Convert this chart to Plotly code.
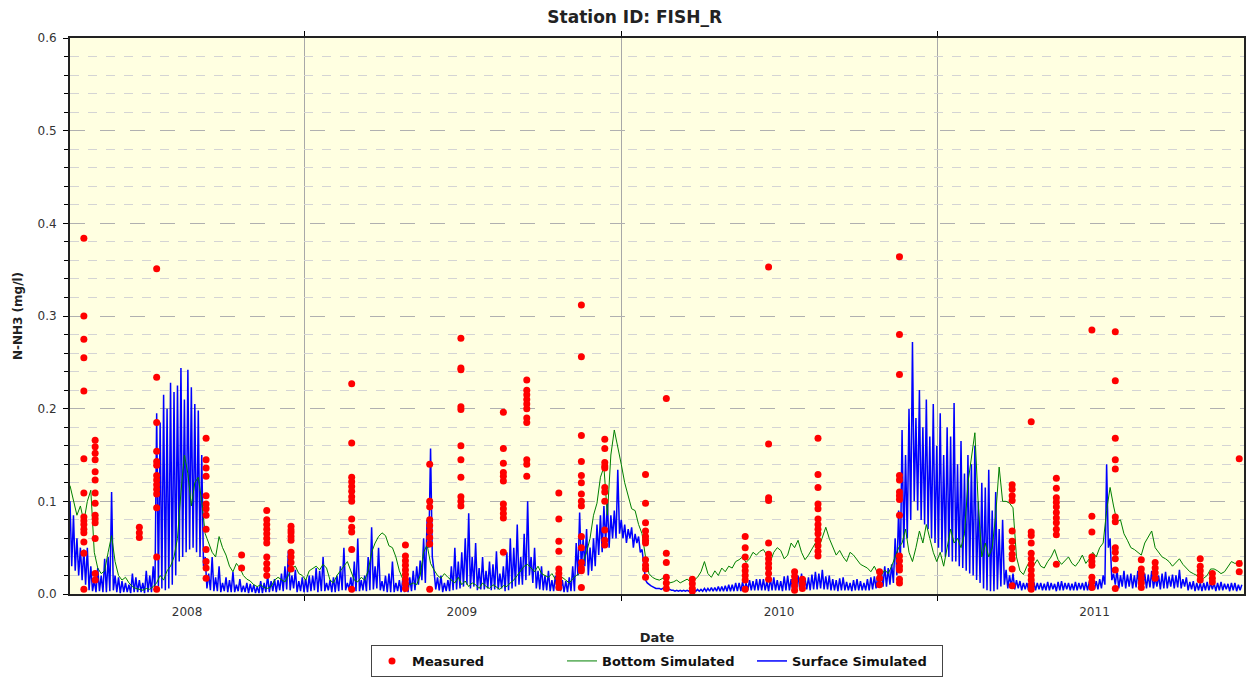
import pandas as pd
import plotly.graph_objects as go

# --- Simulated series: surface every 2 days, bottom every 4 days, both from sim_start
sim_start = '2008-04-05'
surface_step = '2D'
bottom_step = '4D'

surface_sim = [
    0.100, 0.030, 0.085, 0.025, 0.060, 0.020, 0.050, 0.015, 0.048, 0.010, 0.050, 0.004, 0.030, 0.003, 0.015, 0.002, 0.028, 0.003, 0.020, 0.002,
    0.038, 0.002, 0.040, 0.003, 0.110, 0.004, 0.020, 0.002, 0.018, 0.001, 0.014, 0.002, 0.012, 0.002, 0.010, 0.001, 0.022, 0.002, 0.018, 0.002,
    0.015, 0.002, 0.012, 0.001, 0.025, 0.002, 0.020, 0.002, 0.030, 0.005, 0.195, 0.008, 0.185, 0.006, 0.215, 0.004, 0.200, 0.006, 0.228, 0.010,
    0.218, 0.020, 0.225, 0.035, 0.244, 0.040, 0.210, 0.045, 0.242, 0.048, 0.223, 0.050, 0.205, 0.045, 0.198, 0.040, 0.150, 0.030, 0.040, 0.006,
    0.022, 0.004, 0.040, 0.003, 0.018, 0.003, 0.030, 0.002, 0.012, 0.003, 0.018, 0.002, 0.015, 0.002, 0.024, 0.002, 0.010, 0.003, 0.016, 0.002,
    0.009, 0.002, 0.012, 0.001, 0.011, 0.002, 0.010, 0.001, 0.008, 0.001, 0.014, 0.001, 0.012, 0.002, 0.020, 0.002, 0.014, 0.003, 0.016, 0.002,
    0.015, 0.004, 0.022, 0.003, 0.030, 0.005, 0.047, 0.004, 0.020, 0.006, 0.026, 0.002, 0.014, 0.003, 0.018, 0.002, 0.016, 0.002, 0.020, 0.003,
    0.020, 0.004, 0.028, 0.002, 0.025, 0.003, 0.040, 0.003, 0.012, 0.004, 0.015, 0.002, 0.018, 0.002, 0.020, 0.003, 0.030, 0.004, 0.050, 0.004,
    0.012, 0.005, 0.018, 0.002, 0.035, 0.003, 0.060, 0.003, 0.015, 0.004, 0.020, 0.003, 0.040, 0.004, 0.072, 0.005, 0.030, 0.006, 0.050, 0.004,
    0.014, 0.003, 0.020, 0.002, 0.022, 0.002, 0.035, 0.002, 0.012, 0.003, 0.015, 0.002, 0.016, 0.002, 0.020, 0.002, 0.018, 0.003, 0.025, 0.004,
    0.030, 0.010, 0.036, 0.015, 0.060, 0.012, 0.080, 0.050, 0.157, 0.040, 0.025, 0.005, 0.018, 0.004, 0.020, 0.002, 0.012, 0.003, 0.015, 0.003,
    0.030, 0.004, 0.050, 0.005, 0.035, 0.006, 0.045, 0.008, 0.060, 0.010, 0.087, 0.006, 0.040, 0.008, 0.055, 0.004, 0.028, 0.005, 0.040, 0.005,
    0.025, 0.006, 0.035, 0.004, 0.032, 0.005, 0.046, 0.005, 0.022, 0.006, 0.030, 0.003, 0.045, 0.004, 0.060, 0.006, 0.050, 0.008, 0.075, 0.010,
    0.040, 0.010, 0.065, 0.015, 0.100, 0.020, 0.040, 0.012, 0.050, 0.006, 0.025, 0.005, 0.030, 0.004, 0.020, 0.004, 0.025, 0.003, 0.015, 0.003,
    0.020, 0.004, 0.012, 0.003, 0.015, 0.002, 0.014, 0.002, 0.018, 0.003, 0.030, 0.003, 0.055, 0.020, 0.088, 0.025, 0.060, 0.030, 0.070, 0.020,
    0.050, 0.025, 0.060, 0.030, 0.075, 0.042, 0.085, 0.045, 0.095, 0.055, 0.100, 0.050, 0.085, 0.060, 0.090, 0.060, 0.134, 0.065, 0.080, 0.060,
    0.075, 0.055, 0.070, 0.060, 0.072, 0.050, 0.065, 0.055, 0.062, 0.045, 0.048, 0.030, 0.015, 0.012, 0.010, 0.009, 0.008, 0.007, 0.006, 0.006,
    0.006, 0.005, 0.006, 0.005, 0.005, 0.004, 0.005, 0.004, 0.004, 0.003, 0.004, 0.003, 0.004, 0.003, 0.004, 0.003, 0.004, 0.003, 0.004, 0.003,
    0.004, 0.003, 0.005, 0.003, 0.005, 0.003, 0.006, 0.003, 0.006, 0.003, 0.007, 0.003, 0.007, 0.003, 0.008, 0.003, 0.008, 0.003, 0.009, 0.003,
    0.010, 0.003, 0.010, 0.003, 0.012, 0.003, 0.012, 0.003, 0.013, 0.004, 0.012, 0.004, 0.015, 0.004, 0.014, 0.004, 0.016, 0.004, 0.016, 0.004,
    0.016, 0.004, 0.014, 0.003, 0.017, 0.004, 0.018, 0.004, 0.015, 0.004, 0.014, 0.003, 0.019, 0.004, 0.020, 0.004, 0.016, 0.004, 0.015, 0.004,
    0.020, 0.005, 0.022, 0.005, 0.017, 0.005, 0.018, 0.004, 0.021, 0.005, 0.024, 0.005, 0.022, 0.006, 0.026, 0.005, 0.019, 0.005, 0.020, 0.004,
    0.016, 0.004, 0.015, 0.003, 0.017, 0.004, 0.018, 0.004, 0.013, 0.004, 0.012, 0.003, 0.015, 0.004, 0.016, 0.004, 0.014, 0.004, 0.012, 0.004,
    0.016, 0.004, 0.018, 0.005, 0.019, 0.006, 0.020, 0.007, 0.025, 0.008, 0.030, 0.008, 0.028, 0.010, 0.032, 0.012, 0.060, 0.020, 0.090, 0.030,
    0.177, 0.050, 0.150, 0.060, 0.200, 0.080, 0.272, 0.100, 0.190, 0.090, 0.220, 0.080, 0.180, 0.075, 0.210, 0.070, 0.170, 0.060, 0.205, 0.055,
    0.160, 0.050, 0.195, 0.045, 0.150, 0.040, 0.180, 0.040, 0.170, 0.035, 0.206, 0.035, 0.140, 0.030, 0.165, 0.028, 0.130, 0.025, 0.150, 0.022,
    0.140, 0.020, 0.160, 0.015, 0.100, 0.012, 0.120, 0.006, 0.115, 0.004, 0.134, 0.003, 0.090, 0.003, 0.110, 0.005, 0.070, 0.008, 0.080, 0.010,
    0.026, 0.006, 0.020, 0.008, 0.022, 0.005, 0.015, 0.006, 0.014, 0.004, 0.012, 0.005, 0.012, 0.004, 0.011, 0.004, 0.013, 0.004, 0.012, 0.005,
    0.012, 0.004, 0.011, 0.004, 0.013, 0.004, 0.012, 0.005, 0.011, 0.003, 0.013, 0.004, 0.014, 0.004, 0.012, 0.005, 0.012, 0.004, 0.011, 0.004,
    0.013, 0.004, 0.012, 0.005, 0.012, 0.004, 0.013, 0.004, 0.013, 0.004, 0.012, 0.005, 0.014, 0.005, 0.016, 0.006, 0.020, 0.010, 0.140, 0.050,
    0.060, 0.015, 0.022, 0.010, 0.026, 0.006, 0.020, 0.008, 0.025, 0.006, 0.021, 0.008, 0.022, 0.006, 0.020, 0.007, 0.025, 0.006, 0.022, 0.008,
    0.022, 0.006, 0.021, 0.007, 0.025, 0.006, 0.018, 0.008, 0.020, 0.005, 0.022, 0.006, 0.024, 0.006, 0.019, 0.008, 0.021, 0.006, 0.020, 0.007,
    0.026, 0.006, 0.016, 0.008, 0.018, 0.004, 0.013, 0.005, 0.014, 0.003, 0.012, 0.004, 0.012, 0.003, 0.012, 0.004, 0.013, 0.004, 0.012, 0.005,
    0.012, 0.003, 0.012, 0.004, 0.013, 0.004, 0.011, 0.005, 0.011, 0.003, 0.012, 0.004, 0.012, 0.003, 0.010, 0.004, 0.010,
]

bottom_sim = [
    0.117, 0.102, 0.085, 0.095, 0.078, 0.100, 0.112, 0.045, 0.028, 0.022,
    0.025, 0.045, 0.063, 0.035, 0.020, 0.015, 0.018, 0.012, 0.008, 0.006,
    0.005, 0.004, 0.006, 0.005, 0.008, 0.012, 0.020, 0.015, 0.025, 0.030,
    0.040, 0.060, 0.110, 0.150, 0.130, 0.095, 0.120, 0.126, 0.100, 0.065,
    0.055, 0.045, 0.040, 0.062, 0.050, 0.042, 0.030, 0.024, 0.033, 0.028,
    0.020, 0.016, 0.014, 0.010, 0.008, 0.010, 0.007, 0.006, 0.008, 0.015,
    0.018, 0.015, 0.013, 0.020, 0.028, 0.030, 0.022, 0.020, 0.015, 0.025,
    0.028, 0.030, 0.026, 0.032, 0.028, 0.015, 0.012, 0.020, 0.025, 0.030,
    0.035, 0.025, 0.015, 0.013, 0.018, 0.015, 0.025, 0.045, 0.055, 0.062,
    0.066, 0.063, 0.052, 0.050, 0.040, 0.025, 0.016, 0.012, 0.010, 0.012,
    0.010, 0.020, 0.045, 0.053, 0.033, 0.026, 0.020, 0.017, 0.022, 0.018,
    0.015, 0.012, 0.018, 0.010, 0.014, 0.008, 0.012, 0.010, 0.006, 0.012,
    0.008, 0.006, 0.010, 0.007, 0.005, 0.009, 0.008, 0.012, 0.015, 0.020,
    0.025, 0.030, 0.032, 0.028, 0.024, 0.030, 0.022, 0.020, 0.018, 0.022,
    0.016, 0.014, 0.018, 0.015, 0.012, 0.016, 0.020, 0.022, 0.035, 0.045,
    0.060, 0.085, 0.098, 0.126, 0.137, 0.085, 0.150, 0.177, 0.160, 0.140,
    0.120, 0.105, 0.092, 0.090, 0.075, 0.065, 0.040, 0.022, 0.018, 0.016,
    0.015, 0.017, 0.014, 0.012, 0.013, 0.015, 0.012, 0.014, 0.016, 0.013,
    0.015, 0.018, 0.024, 0.035, 0.022, 0.018, 0.025, 0.020, 0.028, 0.024,
    0.030, 0.028, 0.035, 0.037, 0.040, 0.034, 0.038, 0.045, 0.042, 0.046,
    0.048, 0.042, 0.035, 0.045, 0.050, 0.047, 0.038, 0.042, 0.055, 0.050,
    0.058, 0.045, 0.037, 0.042, 0.048, 0.055, 0.050, 0.060, 0.072, 0.060,
    0.050, 0.042, 0.047, 0.040, 0.035, 0.045, 0.042, 0.037, 0.032, 0.030,
    0.028, 0.024, 0.030, 0.022, 0.020, 0.026, 0.022, 0.030, 0.040, 0.050,
    0.055, 0.070, 0.045, 0.035, 0.050, 0.068, 0.055, 0.075, 0.060, 0.045,
    0.035, 0.045, 0.030, 0.050, 0.070, 0.055, 0.060, 0.050, 0.065, 0.120,
    0.150, 0.174, 0.095, 0.040, 0.055, 0.040, 0.050, 0.085, 0.137, 0.100,
    0.100, 0.098, 0.093, 0.040, 0.025, 0.021, 0.030, 0.036, 0.031, 0.037,
    0.030, 0.028, 0.035, 0.040, 0.048, 0.037, 0.032, 0.036, 0.040, 0.033,
    0.030, 0.035, 0.042, 0.033, 0.038, 0.045, 0.040, 0.050, 0.055, 0.090,
    0.115, 0.095, 0.078, 0.080, 0.065, 0.058, 0.050, 0.048, 0.045, 0.042,
    0.055, 0.062, 0.068, 0.050, 0.045, 0.040, 0.038, 0.035, 0.030, 0.034,
    0.038, 0.032, 0.028, 0.024, 0.022, 0.020, 0.018, 0.017, 0.020, 0.027,
    0.027, 0.025, 0.022, 0.024, 0.030, 0.035, 0.033, 0.034, 0.036,
]

# --- Measured samples: one list of values per sampling date
meas_dates = [
    '2008-04-21', '2008-05-04', '2008-06-24', '2008-07-14', '2008-09-09',
    '2008-10-20', '2008-11-18', '2008-12-16', '2009-02-24', '2009-04-27',
    '2009-05-25', '2009-06-30', '2009-08-18', '2009-09-14', '2009-10-21',
    '2009-11-16', '2009-12-13', '2010-01-29', '2010-02-22', '2010-03-24',
    '2010-05-24', '2010-06-20', '2010-07-20', '2010-07-29', '2010-08-16',
    '2010-10-26', '2010-11-18', '2011-03-28', '2011-04-19', '2011-05-18',
    '2011-06-28', '2011-07-25', '2011-08-24', '2011-09-09', '2011-10-31',
    '2011-11-14', '2011-12-15',
]
meas_values = [
    [0.384, 0.300, 0.275, 0.255, 0.219, 0.146, 0.109, 0.083, 0.079, 0.075, 0.070, 0.066, 0.056, 0.044, 0.005],
    [0.166, 0.159, 0.152, 0.145, 0.132, 0.123, 0.109, 0.098, 0.085, 0.081, 0.077, 0.060, 0.022, 0.015],
    [0.072, 0.066, 0.061],
    [0.351, 0.234, 0.185, 0.154, 0.143, 0.139, 0.128, 0.123, 0.118, 0.113, 0.108, 0.093, 0.040, 0.005],
    [0.168, 0.145, 0.136, 0.127, 0.106, 0.097, 0.092, 0.085, 0.070, 0.048, 0.035, 0.028, 0.017],
    [0.042, 0.028],
    [0.090, 0.080, 0.075, 0.070, 0.065, 0.060, 0.055, 0.040, 0.033, 0.027, 0.020],
    [0.073, 0.069, 0.066, 0.062, 0.058, 0.045, 0.040, 0.034, 0.027],
    [0.227, 0.163, 0.126, 0.121, 0.116, 0.111, 0.105, 0.100, 0.081, 0.072, 0.067, 0.048, 0.005],
    [0.053, 0.041, 0.036, 0.031, 0.026, 0.021, 0.016, 0.011, 0.006],
    [0.140, 0.100, 0.094, 0.080, 0.074, 0.068, 0.061, 0.054, 0.005],
    [0.276, 0.244, 0.242, 0.202, 0.199, 0.160, 0.145, 0.126, 0.105, 0.100, 0.095],
    [0.196, 0.157, 0.141, 0.131, 0.127, 0.122, 0.097, 0.092, 0.087, 0.082, 0.045],
    [0.231, 0.220, 0.215, 0.210, 0.205, 0.200, 0.190, 0.185, 0.145, 0.140, 0.127],
    [0.109, 0.081, 0.057, 0.046, 0.027, 0.022, 0.017, 0.012, 0.007],
    [0.312, 0.256, 0.171, 0.143, 0.128, 0.120, 0.108, 0.100, 0.095, 0.062, 0.050, 0.034, 0.028, 0.025, 0.007],
    [0.167, 0.157, 0.142, 0.138, 0.136, 0.115, 0.110, 0.100, 0.069, 0.058, 0.053],
    [0.129, 0.098, 0.077, 0.068, 0.062, 0.058, 0.055, 0.037, 0.031, 0.027, 0.018],
    [0.211, 0.044, 0.034, 0.018, 0.012, 0.006],
    [0.016, 0.011, 0.006, 0.003],
    [0.062, 0.050, 0.040, 0.030, 0.025, 0.020, 0.015, 0.005],
    [0.353, 0.162, 0.104, 0.101, 0.055, 0.043, 0.038, 0.033, 0.028, 0.022, 0.016],
    [0.024, 0.019, 0.014, 0.009, 0.004],
    [0.016, 0.011, 0.006],
    [0.168, 0.129, 0.115, 0.097, 0.092, 0.081, 0.075, 0.070, 0.065, 0.058, 0.052, 0.046, 0.041],
    [0.024, 0.017, 0.010],
    [0.364, 0.280, 0.237, 0.128, 0.123, 0.110, 0.106, 0.102, 0.085, 0.041, 0.036, 0.030, 0.026, 0.016, 0.012],
    [0.118, 0.113, 0.106, 0.101, 0.068, 0.057, 0.050, 0.043, 0.038, 0.027, 0.009],
    [0.186, 0.067, 0.063, 0.055, 0.044, 0.038, 0.032, 0.026, 0.020, 0.015, 0.010, 0.005],
    [0.125, 0.114, 0.104, 0.099, 0.094, 0.088, 0.082, 0.077, 0.070, 0.064, 0.032],
    [0.285, 0.084, 0.067, 0.040, 0.035, 0.031, 0.018, 0.013, 0.007],
    [0.283, 0.230, 0.168, 0.145, 0.135, 0.083, 0.078, 0.050, 0.045, 0.038, 0.026, 0.006],
    [0.037, 0.027, 0.022, 0.017, 0.012, 0.007],
    [0.034, 0.028, 0.023, 0.017],
    [0.038, 0.030, 0.025, 0.020, 0.015],
    [0.022, 0.017, 0.013],
    [0.146, 0.033, 0.024],
]

# --- Axis
x_range = ['2008-04-05', '2011-12-20 12:00']
year_starts = ['2009-01-01', '2010-01-01', '2011-01-01']
year_label_dates = ['2008-08-18', '2009-07-01', '2010-07-02', '2011-07-01']
year_labels = ['2008', '2009', '2010', '2011']

surface_dates = pd.date_range(sim_start, periods=len(surface_sim), freq=surface_step)
bottom_dates = pd.date_range(sim_start, periods=len(bottom_sim), freq=bottom_step)
meas_x = [d for d, vals in zip(meas_dates, meas_values) for _ in vals]
meas_y = [v for vals in meas_values for v in vals]

fig = go.Figure()
fig.add_trace(go.Scatter(
    x=surface_dates, y=surface_sim, mode='lines',
    line=dict(color='#0000FF', width=1.5),
    name='Surface Simulated', legendrank=3
))
fig.add_trace(go.Scatter(
    x=bottom_dates, y=bottom_sim, mode='lines',
    line=dict(color='#008000', width=1),
    name='Bottom Simulated', legendrank=2
))
fig.add_trace(go.Scatter(
    x=meas_x, y=meas_y, mode='markers',
    marker=dict(color='#FF0000', size=7),
    name='Measured', legendrank=1
))

fig.update_layout(
    width=1246, height=680,
    paper_bgcolor='white', plot_bgcolor='#FFFFE1',
    font=dict(family='DejaVu Sans', size=12, color='#333333'),
    margin=dict(l=70, r=2, t=38, b=86),
    title=dict(text='<b>Station ID: FISH_R</b>', x=0.481, xref='paper', xanchor='center',
               y=0.975, yref='container', yanchor='middle',
               font=dict(size=17, color='#222222')),
    legend=dict(orientation='h', x=0.5, xanchor='center', y=-0.0917, yanchor='top',
                bordercolor='#444444', borderwidth=1, bgcolor='white',
                font=dict(size=13, color='#111111', weight='bold'),
                entrywidth=145, traceorder='normal'),
)

fig.update_xaxes(
    type='date', range=x_range, automargin=False,
    tickmode='array', tickvals=year_label_dates, ticktext=year_labels,
    ticks='', showgrid=False, zeroline=False, ticklabelstandoff=6,
    minor=dict(tickmode='array', tickvals=year_starts, ticks='outside', ticklen=5,
               tickcolor='black', showgrid=True, gridcolor='#a8a8a8', gridwidth=1),
    showline=True, linecolor='#222222', linewidth=2, mirror='ticks',
    title=dict(text='<b>Date</b>', font=dict(size=13, color='#222222'), standoff=14),
)
fig.update_yaxes(
    range=[0, 0.6], tick0=0, dtick=0.1, tickformat='.1f', automargin=False,
    ticks='outside', ticklen=5, tickcolor='black', ticklabelstandoff=4,
    showgrid=True, gridcolor='#b0b0b0', griddash='longdash', gridwidth=1,
    minor=dict(dtick=0.02, ticks='outside', ticklen=4, tickcolor='black',
               showgrid=True, gridcolor='#d4d4d4', griddash='dash'),
    showline=True, linecolor='#222222', linewidth=2, mirror='ticks', zeroline=False,
    title=dict(text='<b>N-NH3 (mg/l)</b>', font=dict(size=12, color='#222222'), standoff=12),
)

fig.write_html(
    "out.html",
    config={'displayModeBar': False},
    post_script="document.body.style.margin='0';"
                "document.body.style.overflow='hidden';"
                "document.documentElement.style.overflow='hidden';"
                "document.getElementById('{plot_id}').style.overflow='hidden';",
)
